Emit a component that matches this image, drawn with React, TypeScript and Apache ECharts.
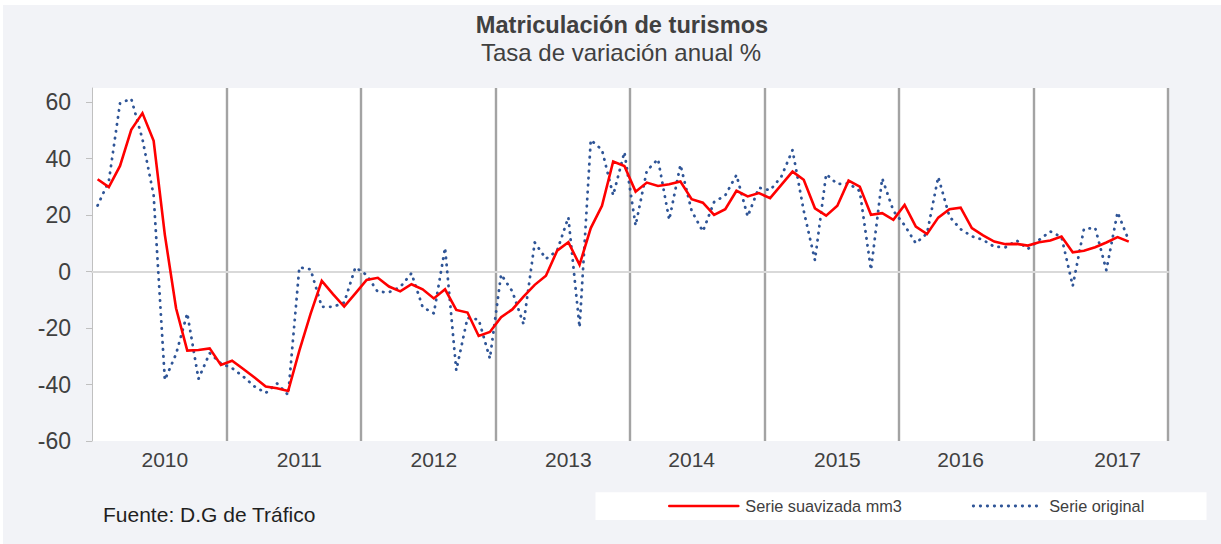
import React, { useEffect, useRef } from "react";
import * as echarts from "echarts";

// ---- DATA ----
const years = ["2010", "2011", "2012", "2013", "2014", "2015", "2016", "2017"];
const monthCodes = ["01", "02", "03", "04", "05", "06", "07", "08", "09", "10", "11", "12"];
const categories = years.flatMap((y) => monthCodes.map((m) => `${y}-${m}`));
// category index (month) where each year label is printed
const yearLabelIndex = [6, 18, 30, 42, 53, 66, 77, 91];
const yTicks = [-60, -40, -20, 0, 20, 40, 60];

const serieOriginal = [
  23.4, 32, 59.6, 61.2, 46.9, 27, -38.4, -29.2, -14.8, -38, -28.9, -32.5,
  -34.2, -37.2, -40.7, -43, -39.6, -43.7, 1.5, 0.8, -12.5, -12.5, -11, 1.5,
  -1.2, -7.2, -7.3, -5.5, -0.6, -12.6, -14.8, 8.4, -35, -16.4, -17, -30.8,
  -1, -7, -18.6, 10.3, 4.5, 7.4, 19.2, -19.8, 46.6, 43.1, 27, 42.3,
  16.3, 35.7, 39.8, 18.3, 37.8, 21.5, 14.2, 24.6, 27, 34.2, 19.5, 29.7,
  28.8, 33.6, 43, 21.5, 4, 34.5, 31, 31.2, 28.5, 0.6, 33, 21.5,
  16.4, 10, 13.5, 33.5, 19.5, 15, 12.5, 11.2, 8.8, 8.6, 11, 8,
  11.2, 14.2, 12.2, -5.1, 15.1, 15.5, 0.5, 21, 11,
];

const serieSuavizada = [
  32.7, 29.9, 37.4, 50.2, 56.1, 46.3, 13, -13, -28, -27.8, -27.2, -33.1,
  -31.6, -34.5, -37.5, -40.7, -41.3, -42.3, -28, -15, -3.3, -8, -12.4, -7.7,
  -2.95, -2.2, -5.3, -7, -4.5, -6.3, -9.5, -6.3, -13.6, -14.5, -22.8, -21.4,
  -16.2, -13.4, -8.9, -4.7, -1.5, 7.4, 10.4, 2.4, 15.4, 23.3, 39, 37.4,
  28.3, 31.5, 30.3, 30.9, 31.9, 25.6, 24.4, 20.1, 22.1, 28.6, 26.6, 27.8,
  26, 30.7, 35.4, 32.5, 22.4, 19.8, 23.3, 32.2, 30.1, 20.1, 20.7, 18.3,
  23.6, 15.9, 13.3, 19.1, 22.1, 22.6, 15.4, 12.8, 10.6, 9.7, 9.8, 9.2,
  10.4, 11, 12.4, 6.8, 7.4, 8.6, 10.3, 12.2, 10.6,
];

const FONT = "'Liberation Sans', Arial, Helvetica, sans-serif";

export default function App() {
  const ref = useRef<HTMLDivElement>(null);

  useEffect(() => {
    document.body.style.margin = "0";
    if (!ref.current) return;
    const chart = echarts.init(ref.current, undefined, { renderer: "svg" });
    chart.setOption({
      animation: false,
      backgroundColor: "#f2f3f7",
      textStyle: { fontFamily: FONT },
      grid: {
        left: 89,
        top: 83,
        width: 1076,
        height: 353,
        show: true,
        backgroundColor: "#ffffff",
        borderWidth: 0,
        containLabel: false,
      },
      graphic: [
        {
          type: "text",
          x: 619,
          y: 20,
          style: {
            text: "Matriculación de turismos",
            fontFamily: FONT,
            fontSize: 23.6,
            fontWeight: "bold",
            fill: "#404040",
            align: "center",
            verticalAlign: "middle",
          },
        },
        {
          type: "text",
          x: 618,
          y: 47,
          style: {
            text: "Tasa de variación anual %",
            fontFamily: FONT,
            fontSize: 24,
            fill: "#404040",
            align: "center",
            verticalAlign: "middle",
          },
        },
        {
          type: "text",
          x: 100,
          y: 509,
          style: {
            text: "Fuente: D.G de Tráfico",
            fontFamily: FONT,
            fontSize: 21,
            fill: "#1f1f1f",
            align: "left",
            verticalAlign: "middle",
          },
        },
        {
          type: "rect",
          z: 0,
          shape: { x: 592.5, y: 487.3, width: 611, height: 27.7 },
          style: { fill: "#ffffff" },
        },
      ],
      legend: {
        left: 665,
        top: 493,
        itemWidth: 69,
        itemHeight: 16,
        itemGap: 70,
        padding: 0,
        data: ["Serie suavizada mm3", "Serie original"],
        textStyle: { fontFamily: FONT, fontSize: 16.3, color: "#404040", padding: [0, 0, 0, 2] },
        lineStyle: { width: "inherit", type: "inherit", cap: "round" },
        itemStyle: { opacity: 0 },
      },
      xAxis: [
        {
          type: "category",
          data: categories,
          boundaryGap: true,
          position: "bottom",
          axisLine: { show: false, onZero: false },
          axisTick: { show: false },
          axisLabel: {
            interval: (index: number) => yearLabelIndex.includes(index),
            formatter: (v: string) => v.slice(0, 4),
            fontFamily: FONT,
            fontSize: 21,
            lineHeight: 21,
            color: "#404040",
            margin: 8,
          },
          splitLine: {
            show: true,
            interval: (index: number) => index > 0 && index % 12 === 0,
            lineStyle: { color: "#a3a3a3", width: 2.4 },
          },
        },
        {
          type: "category",
          data: categories,
          boundaryGap: true,
          position: "top",
          axisLine: { show: true, onZero: true, lineStyle: { color: "#d9d9d9", width: 2 } },
          axisTick: { show: false },
          axisLabel: { show: false },
          splitLine: { show: false },
        },
      ],
      yAxis: {
        type: "value",
        min: -60,
        max: 65,
        interval: 20,
        axisLine: { show: true, lineStyle: { color: "#c0c0c0", width: 1 } },
        axisTick: {
          show: true,
          length: 6,
          customValues: yTicks,
          lineStyle: { color: "#c0c0c0", width: 1 },
        },
        axisLabel: {
          customValues: yTicks,
          fontFamily: FONT,
          fontSize: 23,
          color: "#404040",
          margin: 21,
        },
        splitLine: { show: false },
      },
      series: [
        {
          name: "Serie original",
          type: "line",
          data: serieOriginal,
          symbol: "none",
          z: 2,
          lineStyle: {
            color: "#2f5597",
            width: 2.8,
            type: [0.4, 6.6],
            cap: "round",
            join: "round",
          },
          itemStyle: { color: "#2f5597" },
        },
        {
          name: "Serie suavizada mm3",
          type: "line",
          data: serieSuavizada,
          symbol: "none",
          z: 3,
          lineStyle: { color: "#ff0000", width: 2.6, join: "miter" },
          itemStyle: { color: "#ff0000" },
        },
      ],
    });
    return () => chart.dispose();
  }, []);

  return (
    <div style={{ position: "relative", width: 1221, height: 544, background: "#ffffff", overflow: "hidden" }}>
      <div ref={ref} style={{ position: "absolute", left: 3, top: 5, width: 1218, height: 539 }} />
    </div>
  );
}
